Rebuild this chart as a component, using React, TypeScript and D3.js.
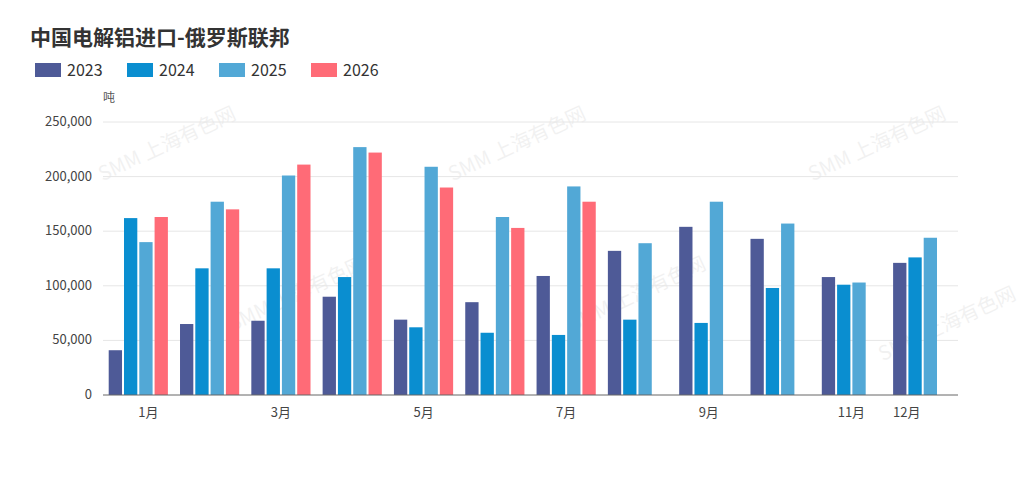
import * as d3 from 'd3'

const months = ['1月', '2月', '3月', '4月', '5月', '6月', '7月', '8月', '9月', '10月', '11月', '12月']
const shownTicks = ['1月', '3月', '5月', '7月', '9月', '11月', '12月']
const seriesNames = ['2023', '2024', '2025', '2026']
const colors = ['#4e5a97', '#0a8ed0', '#52a8d6', '#ff6b77']
const v2023 = [41000, 65000, 68000, 90000, 69000, 85000, 109000, 132000, 154000, 143000, 108000, 121000]
const v2024 = [162000, 116000, 116000, 108000, 62000, 57000, 55000, 69000, 66000, 98000, 101000, 126000]
const v2025 = [140000, 177000, 201000, 227000, 209000, 163000, 191000, 139000, 177000, 157000, 103000, 144000]
const v2026 = [163000, 170000, 211000, 222000, 190000, 153000, 177000]
const yTicks = [0, 50000, 100000, 150000, 200000, 250000]

const W = 1024, H = 478
const left = 103, right = 958, top = 122, bottom = 395
const font = '"Microsoft YaHei", "Noto Sans CJK SC", sans-serif'

export default function App() {
  const series = [v2023, v2024, v2025, v2026]
  const x = d3.scaleBand().domain(months).range([left, right]).paddingInner(0.17).paddingOuter(0.08)
  const x1 = d3.scaleBand().domain(seriesNames).range([0, x.bandwidth()]).paddingInner(0.13)
  const y = d3.scaleLinear().domain([0, 250000]).range([bottom, top])
  const fmt = d3.format(',')
  const wm = [[170, 150], [520, 150], [880, 150], [300, 300], [640, 300], [950, 330]]
  const tickShift = (m: string) => (m === '1月' ? 10 : m === '12月' ? -16 : 0)
  return (
    <svg width={W} height={H} style={{ position: 'absolute', left: 0, top: 0, fontFamily: font }}>
      <rect width={W} height={H} fill="#fff" />
      {wm.map(([a, b], i) => (
        <text key={i} x={a} y={b} transform={`rotate(-25 ${a} ${b})`} fontSize={20} fill="#000" opacity={0.05} textAnchor="middle">SMM 上海有色网</text>
      ))}
      <text x={30} y={45} fontSize={21} fontWeight="bold" fill="#333">中国电解铝进口-俄罗斯联邦</text>
      {seriesNames.map((s, i) => (
        <g key={s} transform={`translate(${35 + i * 92},63)`}>
          <rect width={26} height={14} fill={colors[i]} />
          <text x={32} y={13} fontSize={16} fill="#333">{s}</text>
        </g>
      ))}
      <text x={103} y={102} fontSize={12} fill="#555">吨</text>
      {yTicks.map(t => (
        <g key={t}>
          {t > 0 && <line x1={left} x2={right} y1={y(t)} y2={y(t)} stroke="#e6e6e6" />}
          <text x={92} y={y(t) + 4} fontSize={13} fill="#444" textAnchor="end">{fmt(t)}</text>
        </g>
      ))}
      {series.map((vals, si) => vals.map((v, mi) => (
        <rect key={si + '-' + mi} x={x(months[mi])! + x1(seriesNames[si])!} y={y(v)} width={x1.bandwidth()} height={y(0) - y(v)} fill={colors[si]} />
      )))}
      <line x1={left} x2={right} y1={bottom} y2={bottom} stroke="#666" />
      {shownTicks.map(m => (
        <text key={m} x={x(m)! + x.bandwidth() / 2 + tickShift(m)} y={417} fontSize={13} fill="#444" textAnchor="middle">{m}</text>
      ))}
    </svg>
  )
}
